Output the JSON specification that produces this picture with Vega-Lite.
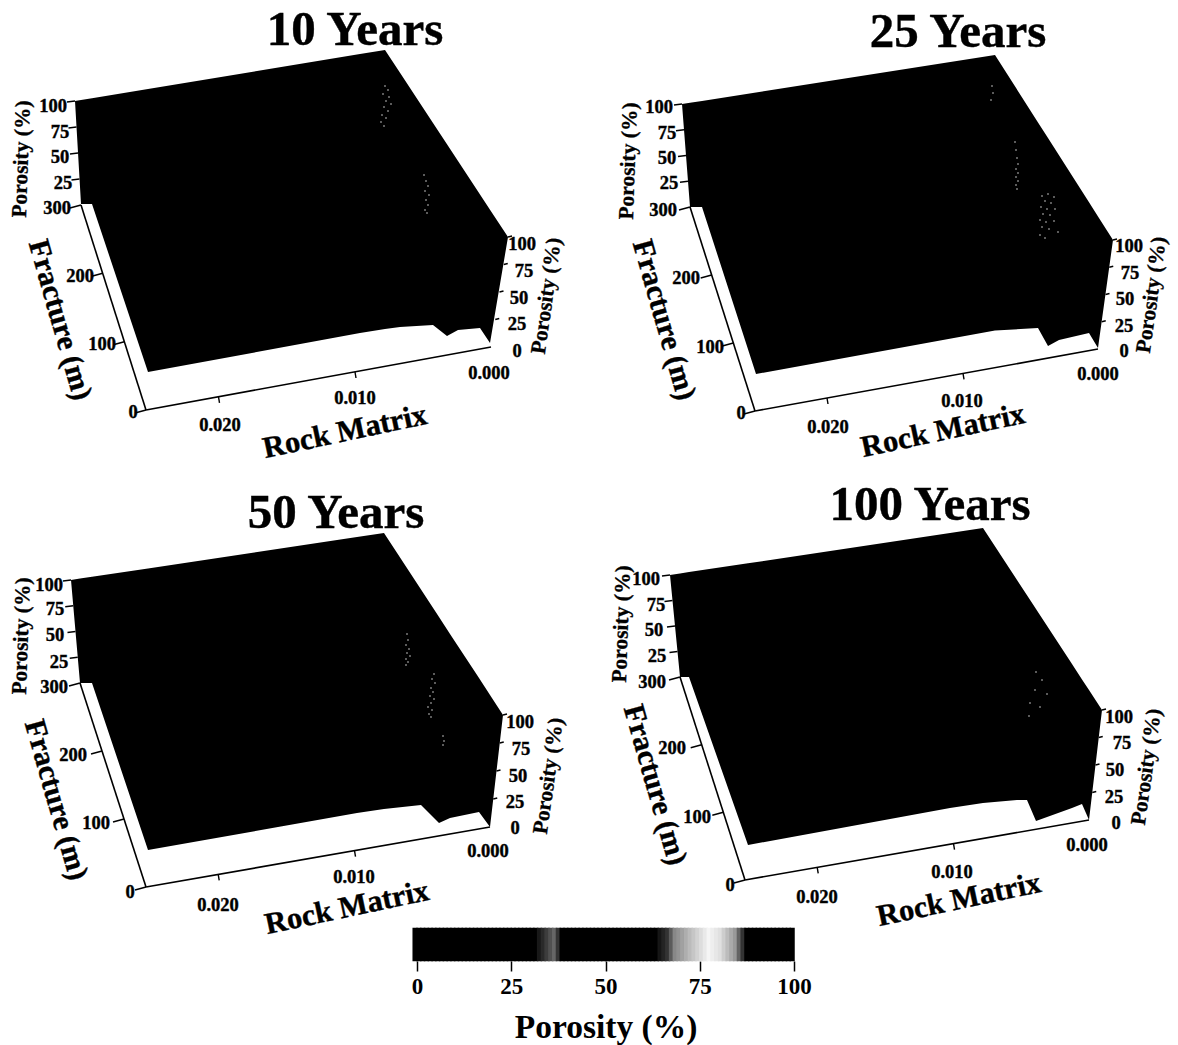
{"$schema":"https://vega.github.io/schema/vega-lite/v6.json","width":1178,"height":1045,"autosize":{"type":"fit","contains":"padding"},"padding":0,"background":"white","view":{"stroke":null},
"datasets":{
"surface":[
{"panel":"10","px":75,"top":101,"bottom":101},{"panel":"10","px":81,"top":100,"bottom":204},{"panel":"10","px":92,"top":98.2,"bottom":204},{"panel":"10","px":148,"top":89,"bottom":372},{"panel":"10","px":360,"top":54,"bottom":333},{"panel":"10","px":385,"top":50,"bottom":329},{"panel":"10","px":400,"top":72.8,"bottom":327},{"panel":"10","px":433,"top":122.9,"bottom":325},{"panel":"10","px":447,"top":144.3,"bottom":336},{"panel":"10","px":458,"top":161,"bottom":330},{"panel":"10","px":480,"top":194.6,"bottom":328},{"panel":"10","px":490,"top":209.8,"bottom":343},{"panel":"10","px":508,"top":237,"bottom":237},
{"panel":"25","px":682,"top":104,"bottom":104},{"panel":"25","px":690,"top":102.7,"bottom":207},{"panel":"25","px":702,"top":100.9,"bottom":207},{"panel":"25","px":756,"top":92.4,"bottom":374},{"panel":"25","px":995,"top":55,"bottom":330.5},{"panel":"25","px":1038,"top":122.4,"bottom":328},{"panel":"25","px":1048,"top":138,"bottom":346},{"panel":"25","px":1059,"top":155.3,"bottom":340},{"panel":"25","px":1089,"top":202.3,"bottom":333},{"panel":"25","px":1098,"top":216.5,"bottom":348},{"panel":"25","px":1113,"top":240,"bottom":240},
{"panel":"50","px":71,"top":580,"bottom":580},{"panel":"50","px":80,"top":578.6,"bottom":683},{"panel":"50","px":92,"top":576.8,"bottom":683},{"panel":"50","px":148,"top":568.5,"bottom":850},{"panel":"50","px":357,"top":537,"bottom":813},{"panel":"50","px":384,"top":533,"bottom":809},{"panel":"50","px":421,"top":589.6,"bottom":805},{"panel":"50","px":439,"top":617,"bottom":823},{"panel":"50","px":450,"top":634,"bottom":818},{"panel":"50","px":479,"top":678,"bottom":812},{"panel":"50","px":490,"top":695,"bottom":827},{"panel":"50","px":503,"top":715,"bottom":715},
{"panel":"100","px":670,"top":575,"bottom":575},{"panel":"100","px":680,"top":573.5,"bottom":677},{"panel":"100","px":689,"top":572,"bottom":677},{"panel":"100","px":748,"top":563.3,"bottom":845},{"panel":"100","px":950,"top":533,"bottom":808},{"panel":"100","px":983,"top":528,"bottom":803},{"panel":"100","px":1017,"top":580,"bottom":800},{"panel":"100","px":1027,"top":595.3,"bottom":800},{"panel":"100","px":1036,"top":609,"bottom":821},{"panel":"100","px":1072,"top":664,"bottom":808},{"panel":"100","px":1082,"top":679.5,"bottom":804},{"panel":"100","px":1089,"top":690,"bottom":820},{"panel":"100","px":1102,"top":710,"bottom":710}
],
"segments":[
{"kind":"axis","a":81,"b":205,"c":146,"d":410},{"kind":"axis","a":146,"b":410,"c":491,"d":347},
{"kind":"tick","a":81,"b":205,"c":70,"d":208},{"kind":"tick","a":102.7,"b":273.3,"c":91.7,"d":276.3},{"kind":"tick","a":124.3,"b":341.7,"c":113.3,"d":344.7},{"kind":"tick","a":146,"b":410,"c":135,"d":413},
{"kind":"tick","a":75,"b":101,"c":67,"d":102},{"kind":"tick","a":76.5,"b":127,"c":68.5,"d":128},{"kind":"tick","a":78,"b":153,"c":70,"d":154},{"kind":"tick","a":79.5,"b":179,"c":71.5,"d":180},
{"kind":"tick","a":218.5,"b":396.8,"c":219.5,"d":402.8},{"kind":"tick","a":355,"b":372,"c":356,"d":378},
{"kind":"tick","a":508,"b":237,"c":512,"d":236},{"kind":"tick","a":503.75,"b":264.5,"c":507.75,"d":263.5},{"kind":"tick","a":499.5,"b":292,"c":503.5,"d":291},{"kind":"tick","a":495.25,"b":319.5,"c":499.25,"d":318.5},
{"kind":"axis","a":690,"b":207,"c":755,"d":411},{"kind":"axis","a":755,"b":411,"c":1098,"d":349},
{"kind":"tick","a":690,"b":207,"c":679,"d":210},{"kind":"tick","a":711.7,"b":275,"c":700.7,"d":278},{"kind":"tick","a":733.3,"b":343,"c":722.3,"d":346},{"kind":"tick","a":755,"b":411,"c":744,"d":414},
{"kind":"tick","a":682,"b":104,"c":674,"d":105},{"kind":"tick","a":684,"b":129.75,"c":676,"d":130.75},{"kind":"tick","a":686,"b":155.5,"c":678,"d":156.5},{"kind":"tick","a":688,"b":181.25,"c":680,"d":182.25},
{"kind":"tick","a":827,"b":398,"c":828,"d":404},{"kind":"tick","a":963,"b":373.4,"c":964,"d":379.4},
{"kind":"tick","a":1113,"b":240,"c":1117,"d":239},{"kind":"tick","a":1109.25,"b":267.25,"c":1113.25,"d":266.25},{"kind":"tick","a":1105.5,"b":294.5,"c":1109.5,"d":293.5},{"kind":"tick","a":1101.75,"b":321.75,"c":1105.75,"d":320.75},
{"kind":"axis","a":80,"b":683,"c":146,"d":887},{"kind":"axis","a":146,"b":887,"c":490,"d":827},
{"kind":"tick","a":80,"b":683,"c":69,"d":686},{"kind":"tick","a":102,"b":751,"c":91,"d":754},{"kind":"tick","a":124,"b":819,"c":113,"d":822},{"kind":"tick","a":146,"b":887,"c":135,"d":890},
{"kind":"tick","a":71,"b":580,"c":63,"d":581},{"kind":"tick","a":73.25,"b":605.75,"c":65.25,"d":606.75},{"kind":"tick","a":75.5,"b":631.5,"c":67.5,"d":632.5},{"kind":"tick","a":77.75,"b":657.25,"c":69.75,"d":658.25},
{"kind":"tick","a":218.2,"b":874.4,"c":219.2,"d":880.4},{"kind":"tick","a":354.5,"b":850.6,"c":355.5,"d":856.6},
{"kind":"tick","a":503,"b":715,"c":507,"d":714},{"kind":"tick","a":499.75,"b":743,"c":503.75,"d":742},{"kind":"tick","a":496.5,"b":771,"c":500.5,"d":770},{"kind":"tick","a":493.25,"b":799,"c":497.25,"d":798},
{"kind":"axis","a":680,"b":677,"c":745,"d":880},{"kind":"axis","a":745,"b":880,"c":1089,"d":820},
{"kind":"tick","a":680,"b":677,"c":669,"d":680},{"kind":"tick","a":701.7,"b":744.7,"c":690.7,"d":747.7},{"kind":"tick","a":723.3,"b":812.3,"c":712.3,"d":815.3},{"kind":"tick","a":745,"b":880,"c":734,"d":883},
{"kind":"tick","a":670,"b":575,"c":662,"d":576},{"kind":"tick","a":672.5,"b":600.5,"c":664.5,"d":601.5},{"kind":"tick","a":675,"b":626,"c":667,"d":627},{"kind":"tick","a":677.5,"b":651.5,"c":669.5,"d":652.5},
{"kind":"tick","a":817.2,"b":867.4,"c":818.2,"d":873.4},{"kind":"tick","a":953.5,"b":843.6,"c":954.5,"d":849.6},
{"kind":"tick","a":1102,"b":710,"c":1106,"d":709},{"kind":"tick","a":1098.75,"b":737.5,"c":1102.75,"d":736.5},{"kind":"tick","a":1095.5,"b":765,"c":1099.5,"d":764},{"kind":"tick","a":1092.25,"b":792.5,"c":1096.25,"d":791.5}
],
"dots":[
{"px":385,"py":86},{"px":388,"py":90},{"px":383,"py":94},{"px":389,"py":97},{"px":386,"py":101},{"px":391,"py":104},{"px":384,"py":107},{"px":388,"py":111},{"px":382,"py":115},{"px":386,"py":118},{"px":381,"py":122},{"px":384,"py":126},
{"px":424,"py":175},{"px":426,"py":181},{"px":428,"py":186},{"px":425,"py":191},{"px":429,"py":195},{"px":426,"py":200},{"px":428,"py":205},{"px":425,"py":210},{"px":427,"py":213},
{"px":992,"py":86},{"px":993,"py":93},{"px":991,"py":100},
{"px":1015,"py":142},{"px":1016,"py":150},{"px":1017,"py":158},{"px":1018,"py":164},{"px":1016,"py":169},{"px":1018,"py":173},{"px":1016,"py":177},{"px":1018,"py":181},{"px":1016,"py":185},{"px":1017,"py":189},
{"px":1042,"py":196},{"px":1048,"py":194},{"px":1054,"py":197},{"px":1045,"py":201},{"px":1051,"py":203},{"px":1041,"py":207},{"px":1047,"py":209},{"px":1055,"py":209},{"px":1043,"py":214},{"px":1050,"py":215},{"px":1040,"py":220},{"px":1046,"py":222},{"px":1054,"py":221},{"px":1042,"py":227},{"px":1049,"py":229},{"px":1040,"py":235},{"px":1045,"py":238},{"px":1058,"py":232},
{"px":407,"py":634},{"px":408,"py":640},{"px":406,"py":645},{"px":409,"py":649},{"px":407,"py":653},{"px":410,"py":656},{"px":406,"py":659},{"px":408,"py":662},{"px":406,"py":665},
{"px":434,"py":674},{"px":432,"py":679},{"px":435,"py":683},{"px":431,"py":688},{"px":433,"py":692},{"px":430,"py":696},{"px":434,"py":699},{"px":431,"py":703},{"px":428,"py":707},{"px":432,"py":710},{"px":429,"py":714},{"px":431,"py":717},
{"px":443,"py":736},{"px":444,"py":741},{"px":443,"py":745},
{"px":1036,"py":672},{"px":1042,"py":680},{"px":1035,"py":690},{"px":1047,"py":694},{"px":1030,"py":703},{"px":1040,"py":707},{"px":1029,"py":716}
],
"labels":[
{"role":"title","label":"10 Years","px":355,"py":30},{"role":"title","label":"25 Years","px":958,"py":32},{"role":"title","label":"50 Years","px":336,"py":513},{"role":"title","label":"100 Years","px":930,"py":505},
{"role":"left","label":"Porosity (%)","px":22,"py":159},{"role":"left","label":"Porosity (%)","px":629,"py":161},{"role":"left","label":"Porosity (%)","px":22,"py":636},{"role":"left","label":"Porosity (%)","px":622,"py":624},
{"role":"right","label":"Porosity (%)","px":547,"py":296},{"role":"right","label":"Porosity (%)","px":1152,"py":295},{"role":"right","label":"Porosity (%)","px":549,"py":776},{"role":"right","label":"Porosity (%)","px":1147,"py":767},
{"role":"fracture","label":"Fracture (m)","px":60,"py":320},{"role":"fracture","label":"Fracture (m)","px":664,"py":320},{"role":"fracture","label":"Fracture (m)","px":56,"py":800},{"role":"fracture","label":"Fracture (m)","px":655,"py":785},
{"role":"rock","label":"Rock Matrix","px":345,"py":432},{"role":"rock","label":"Rock Matrix","px":943,"py":431},{"role":"rock","label":"Rock Matrix","px":347,"py":908},{"role":"rock","label":"Rock Matrix","px":959,"py":900},
{"role":"tick","label":"100","px":53,"py":106},{"role":"tick","label":"75","px":60,"py":132},{"role":"tick","label":"50","px":60,"py":157},{"role":"tick","label":"25","px":63,"py":183},{"role":"tick","label":"300","px":57,"py":208},{"role":"tick","label":"200","px":80,"py":276},{"role":"tick","label":"100","px":102,"py":344},{"role":"tick","label":"0","px":133,"py":412},{"role":"tick","label":"0.020","px":220,"py":425},{"role":"tick","label":"0.010","px":355,"py":398},{"role":"tick","label":"0.000","px":489,"py":373},{"role":"tick","label":"100","px":522,"py":244},{"role":"tick","label":"75","px":524,"py":271},{"role":"tick","label":"50","px":519,"py":298},{"role":"tick","label":"25","px":517,"py":324},{"role":"tick","label":"0","px":517,"py":351},
{"role":"tick","label":"100","px":659,"py":107},{"role":"tick","label":"75","px":667,"py":133},{"role":"tick","label":"50","px":667,"py":158},{"role":"tick","label":"25","px":669,"py":183},{"role":"tick","label":"300","px":663,"py":210},{"role":"tick","label":"200","px":686,"py":278},{"role":"tick","label":"100","px":710,"py":347},{"role":"tick","label":"0","px":741,"py":413},{"role":"tick","label":"0.020","px":828,"py":427},{"role":"tick","label":"0.010","px":962,"py":401},{"role":"tick","label":"0.000","px":1098,"py":374},{"role":"tick","label":"100","px":1129,"py":246},{"role":"tick","label":"75","px":1130,"py":273},{"role":"tick","label":"50","px":1125,"py":299},{"role":"tick","label":"25","px":1124,"py":326},{"role":"tick","label":"0","px":1124,"py":351},
{"role":"tick","label":"100","px":49,"py":585},{"role":"tick","label":"75","px":55,"py":609},{"role":"tick","label":"50","px":55,"py":635},{"role":"tick","label":"25","px":59,"py":662},{"role":"tick","label":"300","px":54,"py":687},{"role":"tick","label":"200","px":73,"py":755},{"role":"tick","label":"100","px":96,"py":823},{"role":"tick","label":"0","px":130,"py":892},{"role":"tick","label":"0.020","px":218,"py":905},{"role":"tick","label":"0.010","px":354,"py":877},{"role":"tick","label":"0.000","px":488,"py":851},{"role":"tick","label":"100","px":520,"py":722},{"role":"tick","label":"75","px":521,"py":749},{"role":"tick","label":"50","px":518,"py":776},{"role":"tick","label":"25","px":515,"py":802},{"role":"tick","label":"0","px":515,"py":828},
{"role":"tick","label":"100","px":646,"py":579},{"role":"tick","label":"75","px":656,"py":605},{"role":"tick","label":"50","px":654,"py":630},{"role":"tick","label":"25","px":657,"py":656},{"role":"tick","label":"300","px":652,"py":682},{"role":"tick","label":"200","px":672,"py":748},{"role":"tick","label":"100","px":697,"py":817},{"role":"tick","label":"0","px":730,"py":885},{"role":"tick","label":"0.020","px":817,"py":897},{"role":"tick","label":"0.010","px":952,"py":872},{"role":"tick","label":"0.000","px":1087,"py":845},{"role":"tick","label":"100","px":1119,"py":717},{"role":"tick","label":"75","px":1122,"py":743},{"role":"tick","label":"50","px":1115,"py":770},{"role":"tick","label":"25","px":1114,"py":797},{"role":"tick","label":"0","px":1116,"py":823}
],
"colorbar":[{"p":-1,"e":0},{"p":0,"e":1},{"p":1,"e":2},{"p":2,"e":3},{"p":3,"e":4},{"p":4,"e":5},{"p":5,"e":6},{"p":6,"e":7},{"p":7,"e":8},{"p":8,"e":9},{"p":9,"e":10},{"p":10,"e":11},{"p":11,"e":12},{"p":12,"e":13},{"p":13,"e":14},{"p":14,"e":15},{"p":15,"e":16},{"p":16,"e":17},{"p":17,"e":18},{"p":18,"e":19},{"p":19,"e":20},{"p":20,"e":21},{"p":21,"e":22},{"p":22,"e":23},{"p":23,"e":24},{"p":24,"e":25},{"p":25,"e":26},{"p":26,"e":27},{"p":27,"e":28},{"p":28,"e":29},{"p":29,"e":30},{"p":30,"e":31},{"p":31,"e":32},{"p":32,"e":33},{"p":33,"e":34},{"p":34,"e":35},{"p":35,"e":36},{"p":36,"e":37},{"p":37,"e":38},{"p":38,"e":39},{"p":39,"e":40},{"p":40,"e":41},{"p":41,"e":42},{"p":42,"e":43},{"p":43,"e":44},{"p":44,"e":45},{"p":45,"e":46},{"p":46,"e":47},{"p":47,"e":48},{"p":48,"e":49},{"p":49,"e":50},{"p":50,"e":51},{"p":51,"e":52},{"p":52,"e":53},{"p":53,"e":54},{"p":54,"e":55},{"p":55,"e":56},{"p":56,"e":57},{"p":57,"e":58},{"p":58,"e":59},{"p":59,"e":60},{"p":60,"e":61},{"p":61,"e":62},{"p":62,"e":63},{"p":63,"e":64},{"p":64,"e":65},{"p":65,"e":66},{"p":66,"e":67},{"p":67,"e":68},{"p":68,"e":69},{"p":69,"e":70},{"p":70,"e":71},{"p":71,"e":72},{"p":72,"e":73},{"p":73,"e":74},{"p":74,"e":75},{"p":75,"e":76},{"p":76,"e":77},{"p":77,"e":78},{"p":78,"e":79},{"p":79,"e":80},{"p":80,"e":81},{"p":81,"e":82},{"p":82,"e":83},{"p":83,"e":84},{"p":84,"e":85},{"p":85,"e":86},{"p":86,"e":87},{"p":87,"e":88},{"p":88,"e":89},{"p":89,"e":90},{"p":90,"e":91},{"p":91,"e":92},{"p":92,"e":93},{"p":93,"e":94},{"p":94,"e":95},{"p":95,"e":96},{"p":96,"e":97},{"p":97,"e":98},{"p":98,"e":99},{"p":99,"e":100}]
},
"layer":[
{"layer":[
{"data":{"name":"surface"},"mark":{"type":"area","color":"#000000","interpolate":"linear","opacity":1},"encoding":{"x":{"field":"px","type":"quantitative","scale":{"domain":[0,1178],"nice":false,"zero":false},"axis":null},"y":{"field":"top","type":"quantitative","scale":{"domain":[1045,0],"nice":false,"zero":false},"axis":null},"y2":{"field":"bottom"},"detail":{"field":"panel"}}},
{"data":{"name":"dots"},"mark":{"type":"point","shape":"square","filled":true,"color":"#b0b0b0","size":3,"opacity":0.8},"encoding":{"x":{"field":"px","type":"quantitative","axis":null},"y":{"field":"py","type":"quantitative","axis":null}}},
{"data":{"name":"segments"},"transform":[{"filter":"datum.kind==='axis'"}],"mark":{"type":"rule","color":"#000000","strokeWidth":1.6},"encoding":{"x":{"field":"a","type":"quantitative","axis":null},"y":{"field":"b","type":"quantitative","axis":null},"x2":{"field":"c"},"y2":{"field":"d"}}},
{"data":{"name":"segments"},"transform":[{"filter":"datum.kind==='tick'"}],"mark":{"type":"rule","color":"#000000","strokeWidth":1.4},"encoding":{"x":{"field":"a","type":"quantitative","axis":null},"y":{"field":"b","type":"quantitative","axis":null},"x2":{"field":"c"},"y2":{"field":"d"}}},
{"data":{"name":"labels"},"transform":[{"filter":"datum.role==='title'"}],"mark":{"type":"text","font":"Liberation Serif","fontWeight":"bold","fontSize":49,"align":"center","baseline":"middle","color":"#000000","stroke":"#000000","strokeWidth":0.4},"encoding":{"x":{"field":"px","type":"quantitative","axis":null},"y":{"field":"py","type":"quantitative","axis":null},"text":{"field":"label"}}},
{"data":{"name":"labels"},"transform":[{"filter":"datum.role==='tick'"}],"mark":{"type":"text","font":"Liberation Serif","fontWeight":"bold","fontSize":18.5,"align":"center","baseline":"middle","color":"#000000","stroke":"#000000","strokeWidth":0.4},"encoding":{"x":{"field":"px","type":"quantitative","axis":null},"y":{"field":"py","type":"quantitative","axis":null},"text":{"field":"label"}}},
{"data":{"name":"labels"},"transform":[{"filter":"datum.role==='left'"}],"mark":{"type":"text","font":"Liberation Serif","fontWeight":"bold","fontSize":21.5,"angle":272,"align":"center","baseline":"middle","color":"#000000","stroke":"#000000","strokeWidth":0.3},"encoding":{"x":{"field":"px","type":"quantitative","axis":null},"y":{"field":"py","type":"quantitative","axis":null},"text":{"field":"label"}}},
{"data":{"name":"labels"},"transform":[{"filter":"datum.role==='right'"}],"mark":{"type":"text","font":"Liberation Serif","fontWeight":"bold","fontSize":21.5,"angle":278,"align":"center","baseline":"middle","color":"#000000","stroke":"#000000","strokeWidth":0.3},"encoding":{"x":{"field":"px","type":"quantitative","axis":null},"y":{"field":"py","type":"quantitative","axis":null},"text":{"field":"label"}}},
{"data":{"name":"labels"},"transform":[{"filter":"datum.role==='fracture'"}],"mark":{"type":"text","font":"Liberation Serif","fontWeight":"bold","fontSize":30,"angle":74,"align":"center","baseline":"middle","color":"#000000","stroke":"#000000","strokeWidth":0.4},"encoding":{"x":{"field":"px","type":"quantitative","axis":null},"y":{"field":"py","type":"quantitative","axis":null},"text":{"field":"label"}}},
{"data":{"name":"labels"},"transform":[{"filter":"datum.role==='rock'"}],"mark":{"type":"text","font":"Liberation Serif","fontWeight":"bold","fontSize":30.5,"angle":348,"align":"center","baseline":"middle","color":"#000000","stroke":"#000000","strokeWidth":0.4},"encoding":{"x":{"field":"px","type":"quantitative","axis":null},"y":{"field":"py","type":"quantitative","axis":null},"text":{"field":"label"}}}
]},
{"data":{"name":"colorbar"},"mark":{"type":"rect","strokeWidth":1.5,"opacity":1},"encoding":{
"x":{"field":"p","type":"quantitative","scale":{"domain":[0,100],"range":[417,794],"nice":false,"zero":false},"axis":{"orient":"bottom","offset":-84,"values":[0,25,50,75,100],"domain":false,"grid":false,"ticks":true,"tickSize":10,"tickWidth":1.5,"tickColor":"#000000","labelFont":"Liberation Serif","labelFontWeight":"bold","labelFontSize":23,"labelColor":"#000000","labelPadding":4,"labelOverlap":false,"labelFlush":false,"title":"Porosity (%)","titleFont":"Liberation Serif","titleFontWeight":"bold","titleFontSize":33.5,"titleColor":"#000000","titlePadding":13}},
"x2":{"field":"e"},
"y":{"datum":928.5,"type":"quantitative","axis":null},"y2":{"datum":960.5},
"fill":{"field":"p","type":"quantitative","legend":null,"scale":{"domain":[0,31,33,36,38,63,66,68,72,77,80,84,87,100],"range":["#000000","#000000","#2a2a2a","#666666","#000000","#000000","#333333","#888888","#bbbbbb","#f5f5f5","#e0e0e0","#999999","#000000","#000000"]}},
"stroke":{"field":"p","type":"quantitative","legend":null,"scale":{"domain":[0,31,33,36,38,63,66,68,72,77,80,84,87,100],"range":["#000000","#000000","#2a2a2a","#666666","#000000","#000000","#333333","#888888","#bbbbbb","#f5f5f5","#e0e0e0","#999999","#000000","#000000"]}}
}}
],
"resolve":{"scale":{"x":"independent"},"axis":{"x":"independent"}}
}
